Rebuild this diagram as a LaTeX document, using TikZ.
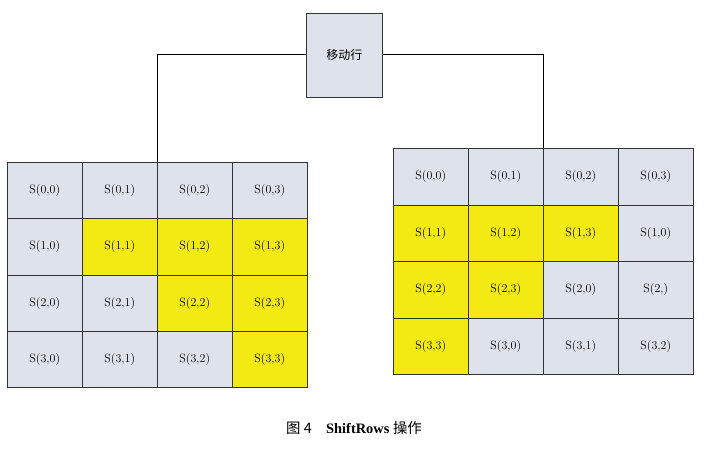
\documentclass[tikz,border=0pt]{standalone}
\usepackage{fontspec}
\newfontfamily\cjk{Noto Sans CJK SC}
\begin{document}
\begin{tikzpicture}[x=1pt,y=-1pt,
  cell/.style={draw=black!80,line width=0.6pt,minimum width=75pt,minimum height=56.5pt,anchor=north west,inner sep=0pt,font=\large},
  g/.style={cell,fill=gray!8!blue!6!white},
  yl/.style={cell,fill=yellow!90!orange!85!white},
  conn/.style={draw=black,line width=0.6pt}]
\useasboundingbox (0,0) rectangle (708,453);
\definecolor{cg}{HTML}{DEE3EB}\definecolor{cy}{HTML}{F3EA14}
\tikzset{g/.style={cell,fill=cg},yl/.style={cell,fill=cy}}
\node[draw=black!80,fill=cg,line width=0.6pt,minimum width=76pt,minimum height=84pt,anchor=north west,font=\cjk\large] (top) at (306,13) {移动行};
% left grid
\foreach \r/\c/\s in {0/0/g,0/1/g,0/2/g,0/3/g,1/0/g,1/1/yl,1/2/yl,1/3/yl,2/0/g,2/1/g,2/2/yl,2/3/yl,3/0/g,3/1/g,3/2/g,3/3/yl}
  \node[\s] (L\r\c) at ({7+\c*75},{162+\r*56.25}) {S(\r,\c)};
% right grid
\foreach \r/\c/\s/\t in {0/0/g/{0,0},0/1/g/{0,1},0/2/g/{0,2},0/3/g/{0,3},
  1/0/yl/{1,1},1/1/yl/{1,2},1/2/yl/{1,3},1/3/g/{1,0},
  2/0/yl/{2,2},2/1/yl/{2,3},2/2/g/{2,0},2/3/g/{2,},
  3/0/yl/{3,3},3/1/g/{3,0},3/2/g/{3,1},3/3/g/{3,2}}
  \node[\s] (R\r\c) at ({393+\c*75},{148+\r*56.5}) {S(\t)};
\coordinate (a) at (156,54);
\coordinate (b) at (541,54);
\draw[conn] (L01.north east) |- (top.west |- a);
\draw[conn] (top.east |- b) -| (R02.north west);
\node[font=\cjk\Large] (cap) at (354,428) {图 4\quad \fontspec{Liberation Serif}\bfseries ShiftRows \cjk\mdseries 操作};
\end{tikzpicture}
\end{document}
